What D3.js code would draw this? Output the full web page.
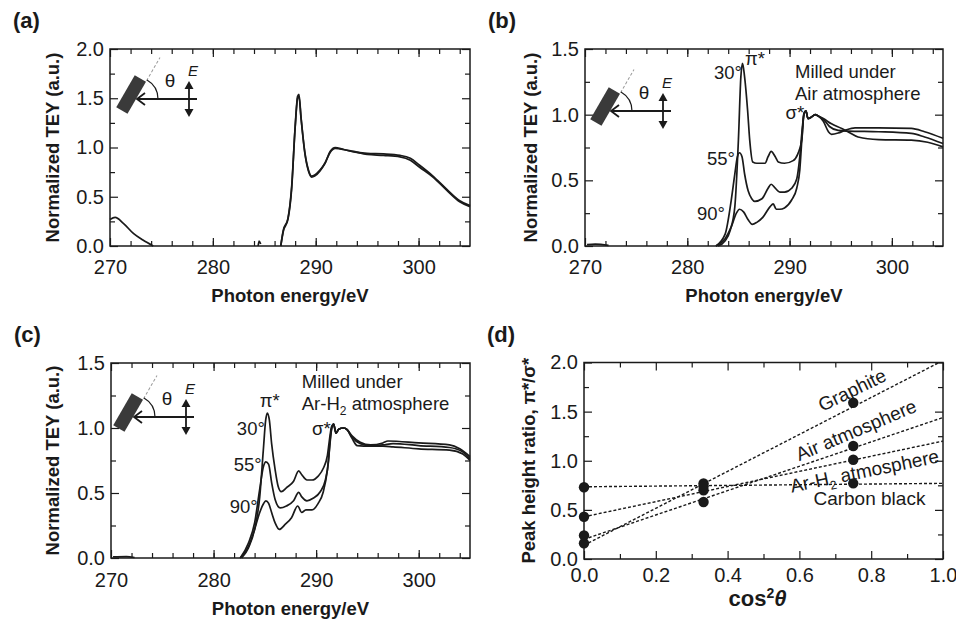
<!DOCTYPE html>
<html>
<head>
<meta charset="utf-8">
<script src="https://cdn.jsdelivr.net/npm/d3@7/dist/d3.min.js"></script>
<style>
  body { margin: 0; background: #fff; }
  text { font-family: "Liberation Sans", Arial, sans-serif; fill: #1a1a1a; }
</style>
</head>
<body>
<script>
// ---- data ----
// panel (a): graphite, [photon energy eV, normalized TEY]
var aPreEdge = [[270, 0.27], [270.5, 0.29], [271.3, 0.23], [272.3, 0.125], [273.2, 0.06], [274.2, 0]];
var aBlip = [[284.4, 0], [284.5, 0.05], [284.65, 0.02]];
var aScan1 = [[286.6, 0], [286.85, 0.16], [287.3, 0.28], [287.66, 0.6], [288.0, 1.21], [288.24, 1.52], [288.37, 1.54],
  [288.57, 1.31], [288.96, 0.94], [289.3, 0.77], [289.6, 0.71], [289.9, 0.72], [290.4, 0.77], [290.9, 0.84],
  [291.4, 0.96], [291.9, 1.0], [292.7, 0.98], [293.7, 0.96], [295, 0.93], [296.6, 0.92], [298.2, 0.905],
  [299.2, 0.87], [300.1, 0.8], [301.4, 0.7], [302.7, 0.57], [304, 0.45], [305, 0.4]];
var aScan2 = [[286.6, 0], [286.85, 0.15], [287.3, 0.27], [287.66, 0.58], [288.0, 1.2], [288.24, 1.5], [288.37, 1.52],
  [288.57, 1.3], [288.96, 0.93], [289.3, 0.76], [289.6, 0.7], [289.9, 0.71], [290.4, 0.76], [290.9, 0.84],
  [291.4, 0.95], [291.9, 0.99], [292.7, 0.98], [293.7, 0.955], [295, 0.94], [296.6, 0.935], [298.2, 0.92],
  [299.2, 0.89], [300.1, 0.82], [301.4, 0.71], [302.7, 0.58], [304, 0.46], [305, 0.41]];

// panel (b): milled under air, three incidence angles
var bBlip = [[270.2, 0.01], [271, 0.015], [272.3, 0.005]];
var b30 = [[283.0, 0], [283.7, 0.04], [284.2, 0.12], [284.65, 0.3], [285.0, 0.81], [285.24, 1.29], [285.4, 1.39],
  [285.6, 1.29], [285.9, 1.03], [286.1, 0.81], [286.4, 0.64], [286.8, 0.63], [287.6, 0.63], [287.9, 0.68],
  [288.2, 0.72], [288.6, 0.68], [288.9, 0.64], [289.5, 0.63], [290.35, 0.65], [290.8, 0.7], [291.2, 0.81],
  [291.4, 1.01], [291.6, 1.03], [291.8, 0.97], [292.1, 0.98], [292.5, 1.0], [292.8, 0.99], [293.3, 0.97],
  [294.1, 0.93], [295.1, 0.895], [295.7, 0.87], [296.7, 0.83], [298.7, 0.81], [301.9, 0.806], [303.5, 0.79], [305, 0.755]];
var b55 = [[282.8, 0], [283.7, 0.09], [284.3, 0.35], [284.65, 0.55], [284.9, 0.68], [285.1, 0.71], [285.35, 0.68],
  [285.6, 0.55], [285.95, 0.42], [286.3, 0.36], [286.6, 0.34], [287.3, 0.36], [287.9, 0.44], [288.2, 0.47],
  [288.6, 0.44], [289.05, 0.41], [289.5, 0.41], [290.2, 0.44], [290.7, 0.51], [291.0, 0.68], [291.2, 0.86],
  [291.4, 1.0], [291.6, 1.03], [291.8, 0.97], [292.1, 0.98], [292.5, 1.0], [292.8, 0.99], [293.3, 0.965],
  [293.9, 0.91], [294.75, 0.88], [295.7, 0.875], [298.7, 0.87], [301.9, 0.857], [303.2, 0.83], [305, 0.78]];
var b90 = [[282.8, 0], [283.7, 0.056], [284.3, 0.145], [284.8, 0.25], [285.1, 0.28], [285.5, 0.26], [285.95, 0.2],
  [286.35, 0.165], [286.8, 0.18], [287.4, 0.22], [288.1, 0.3], [288.4, 0.32], [288.7, 0.28], [289.05, 0.28],
  [289.5, 0.29], [290.2, 0.35], [290.7, 0.44], [291.0, 0.58], [291.2, 0.81], [291.4, 1.0], [291.6, 1.03],
  [291.8, 0.97], [292.1, 0.98], [292.5, 1.0], [292.8, 0.99], [293.3, 0.95], [293.8, 0.87], [294.1, 0.85],
  [294.75, 0.86], [295.4, 0.88], [296.4, 0.9], [298.7, 0.9], [301.9, 0.895], [303.2, 0.87], [305, 0.82]];

// panel (c): milled under Ar-H2
var cBlip = [[270.2, 0.008], [271.5, 0.01], [272.3, 0.004]];
var c30 = [[282.74, 0], [283.4, 0.077], [284.0, 0.22], [284.5, 0.47], [284.85, 0.83], [285.08, 1.06], [285.24, 1.115],
  [285.44, 1.06], [285.66, 0.88], [286.0, 0.68], [286.3, 0.55], [286.6, 0.51], [287.1, 0.54], [287.8, 0.59],
  [288.3, 0.67], [288.6, 0.64], [289.1, 0.6], [289.6, 0.6], [290.2, 0.63], [290.7, 0.69], [291.1, 0.79],
  [291.35, 0.94], [291.5, 1.01], [291.7, 1.03], [291.94, 0.96], [292.2, 0.99], [292.65, 1.0], [292.98, 0.99],
  [293.5, 0.92], [294, 0.865], [295.3, 0.86], [296.5, 0.86], [297.5, 0.855], [300, 0.84], [303, 0.83], [304.3, 0.8], [305, 0.75]];
var c55 = [[282.6, 0], [283.4, 0.115], [284.0, 0.27], [284.5, 0.53], [284.85, 0.7], [285.1, 0.74], [285.37, 0.72],
  [285.66, 0.58], [286.0, 0.45], [286.5, 0.385], [287.1, 0.4], [287.8, 0.44], [288.3, 0.505], [288.6, 0.47],
  [289.1, 0.44], [289.7, 0.46], [290.4, 0.51], [290.9, 0.6], [291.2, 0.74], [291.4, 0.94], [291.55, 1.01],
  [291.7, 1.03], [291.94, 0.96], [292.2, 0.99], [292.65, 1.0], [292.98, 0.99], [293.5, 0.93], [294.3, 0.88],
  [295.3, 0.865], [296.5, 0.87], [297.5, 0.88], [300, 0.865], [303, 0.85], [304.2, 0.82], [305, 0.765]];
var c90 = [[282.6, 0], [283.4, 0.09], [284.0, 0.22], [284.5, 0.35], [284.85, 0.415], [285.1, 0.44], [285.37, 0.42],
  [285.66, 0.35], [286.0, 0.27], [286.4, 0.22], [287.0, 0.26], [287.6, 0.31], [288.2, 0.4], [288.6, 0.35],
  [289.0, 0.37], [289.6, 0.37], [290.2, 0.42], [290.7, 0.51], [291.1, 0.68], [291.35, 0.88], [291.55, 1.01],
  [291.7, 1.03], [291.94, 0.96], [292.2, 0.99], [292.65, 1.0], [292.98, 0.99], [293.5, 0.94], [294.3, 0.89],
  [295.3, 0.87], [296.5, 0.885], [297, 0.9], [300, 0.885], [303, 0.87], [304, 0.84], [305, 0.78]];

// panel (d): peak height ratio vs cos^2(theta)
var cos2theta = [0, 0.333, 0.75];
var graphiteRatio = [0.16, 0.77, 1.59];
var airRatio = [0.24, 0.58, 1.15];
var arh2Ratio = [0.43, 0.70, 1.01];
var carbonRatio = [0.73, 0.74, 0.77];
var fitX = [0, 1];
var graphiteFit = [0.14, 2.02];
var airFit = [0.2, 1.44];
var arh2Fit = [0.43, 1.2];
var carbonFit = [0.735, 0.77];

// ticks
var eMajor = [270, 280, 290, 300];
var eMinor = d3.range(272, 305, 2);
var tey2Major = [0, 0.5, 1.0, 1.5, 2.0];
var tey2Minor = [0.25, 0.75, 1.25, 1.75];
var tey15Major = [0, 0.5, 1.0, 1.5];
var tey15Minor = [0.25, 0.75, 1.25];
var cosMajor = [0, 0.2, 0.4, 0.6, 0.8, 1.0];
var cosMinor = [0.1, 0.3, 0.5, 0.7, 0.9];

var width = 956, height = 621;
var font = '"Liberation Sans", Arial, sans-serif';
var ink = '#1a1a1a';

var svg = d3.select('body')
  .append('svg')
  .attr('width', width)
  .attr('height', height);

function styleAxis(sel) {
  sel.attr('font-family', font).attr('font-size', 20);
  sel.select('.domain').remove();
  sel.selectAll('line').attr('stroke', ink).attr('stroke-width', 1.2);
  sel.selectAll('text').attr('fill', ink);
}

function drawFrame(p) {
  var g = svg.append('g').attr('transform', 'translate(' + p.left + ',' + p.top + ')');
  var x = d3.scaleLinear().domain(p.xDomain).range([0, p.w]);
  var y = d3.scaleLinear().domain(p.yDomain).range([p.h, 0]);
  var fmt = d3.format('.1f');

  g.append('g').attr('transform', 'translate(0,' + p.h + ')')
    .call(d3.axisBottom(x).tickValues(p.xMajor).tickSize(-8).tickSizeOuter(0).tickPadding(p.xPad).tickFormat(p.xFmt))
    .call(styleAxis);
  g.append('g').attr('transform', 'translate(0,' + p.h + ')')
    .call(d3.axisBottom(x).tickValues(p.xMinor).tickSize(-5).tickSizeOuter(0).tickFormat(''))
    .call(styleAxis);
  g.append('g')
    .call(d3.axisTop(x).tickValues(p.xMajor).tickSize(-8).tickSizeOuter(0).tickFormat(''))
    .call(styleAxis);
  g.append('g')
    .call(d3.axisTop(x).tickValues(p.xMinor).tickSize(-5).tickSizeOuter(0).tickFormat(''))
    .call(styleAxis);
  g.append('g')
    .call(d3.axisLeft(y).tickValues(p.yMajor).tickSize(-8).tickSizeOuter(0).tickPadding(6).tickFormat(fmt))
    .call(styleAxis);
  g.append('g')
    .call(d3.axisLeft(y).tickValues(p.yMinor).tickSize(-5).tickSizeOuter(0).tickFormat(''))
    .call(styleAxis);
  g.append('g').attr('transform', 'translate(' + p.w + ',0)')
    .call(d3.axisRight(y).tickValues(p.yMajor).tickSize(-8).tickSizeOuter(0).tickFormat(''))
    .call(styleAxis);
  g.append('g').attr('transform', 'translate(' + p.w + ',0)')
    .call(d3.axisRight(y).tickValues(p.yMinor).tickSize(-5).tickSizeOuter(0).tickFormat(''))
    .call(styleAxis);

  g.append('rect')
    .attr('width', p.w).attr('height', p.h)
    .attr('fill', 'none').attr('stroke', ink).attr('stroke-width', 1.5);

  // panel letter
  svg.append('text').attr('x', p.left - 97).attr('y', p.top - 21)
    .attr('font-size', 22).attr('font-weight', 'bold').text(p.letter);

  // y title
  var cy = p.top + p.h / 2;
  svg.append('text')
    .attr('transform', 'translate(' + (p.left + p.yTitleDx) + ',' + cy + ') rotate(-90)')
    .attr('text-anchor', 'middle')
    .attr('font-size', 18.5).attr('font-weight', 'bold')
    .text(p.yTitle);

  return { g: g, x: x, y: y };
}

function spectrumTitle(p) {
  svg.append('text')
    .attr('x', p.left + p.w / 2).attr('y', p.top + p.h + p.xTitleDy)
    .attr('text-anchor', 'middle')
    .attr('font-size', 18.5).attr('font-weight', 'bold')
    .text('Photon energy/eV');
}

function drawCurves(f, curves) {
  var line = d3.line()
    .x(function(d) { return f.x(d[0]); })
    .y(function(d) { return f.y(d[1]); })
    .curve(d3.curveMonotoneX);
  f.g.selectAll('path.curve')
    .data(curves)
    .enter()
    .append('path')
    .attr('class', 'curve')
    .attr('d', line)
    .attr('fill', 'none')
    .attr('stroke', ink)
    .attr('stroke-width', 1.7)
    .attr('stroke-linejoin', 'round');
}

// geometry sketch: tilted sample, incoming beam, theta and E vector
function drawInset(f, tx, ty) {
  var s = f.g.append('g').attr('transform', 'translate(' + tx + ',' + ty + ')');
  var sample = s.append('g').attr('transform', 'rotate(30)');
  sample.append('rect')
    .attr('x', -13).attr('y', -20).attr('width', 13).attr('height', 37)
    .attr('fill', '#3a3a3a');
  sample.append('line')
    .attr('x1', 0).attr('y1', -21).attr('x2', 0).attr('y2', -48)
    .attr('stroke', '#999').attr('stroke-width', 1).attr('stroke-dasharray', '3,2');

  var r = 22, a = Math.PI / 3;
  s.append('path')
    .attr('d', 'M' + r + ',0 A' + r + ',' + r + ' 0 0 0 ' + (r * Math.cos(a)) + ',' + (-r * Math.sin(a)))
    .attr('fill', 'none').attr('stroke', ink).attr('stroke-width', 1.2);

  s.append('line')
    .attr('x1', 61).attr('y1', 0).attr('x2', 1).attr('y2', 0)
    .attr('stroke', ink).attr('stroke-width', 1.8);
  s.append('path')
    .attr('d', 'M9,-6 L1,0 L9,6')
    .attr('fill', 'none').attr('stroke', ink).attr('stroke-width', 1.8);

  s.append('line')
    .attr('x1', 53).attr('y1', -12).attr('x2', 53).attr('y2', 12)
    .attr('stroke', ink).attr('stroke-width', 1.8);
  s.append('path').attr('d', 'M53,-18 L48.5,-10 L57.5,-10 Z').attr('fill', ink);
  s.append('path').attr('d', 'M53,18 L48.5,10 L57.5,10 Z').attr('fill', ink);

  s.append('text').attr('x', 34).attr('y', -12).attr('text-anchor', 'middle')
    .attr('font-size', 19).text('θ');
  s.append('text').attr('x', 57).attr('y', -23).attr('text-anchor', 'middle')
    .attr('font-size', 15).attr('font-style', 'italic').text('E');
}

function label(f, txt, ex, v, anchor) {
  return f.g.append('text')
    .attr('x', f.x(ex)).attr('y', f.y(v))
    .attr('text-anchor', anchor || 'start')
    .attr('font-size', 18.5)
    .text(txt);
}

// ---- panel (a) ----
var pa = { letter: '(a)', left: 110, top: 49, w: 360, h: 197, xDomain: [270, 305], yDomain: [0, 2],
  xMajor: eMajor, xMinor: eMinor, yMajor: tey2Major, yMinor: tey2Minor, xPad: 14, xFmt: d3.format('d'),
  yTitle: 'Normalized TEY (a.u.)', yTitleDx: -51, xTitleDy: 56 };
var fa = drawFrame(pa);
spectrumTitle(pa);
drawCurves(fa, [aPreEdge, aBlip, aScan2, aScan1]);
drawInset(fa, 26, 50);

// ---- panel (b) ----
var pb = { letter: '(b)', left: 585, top: 49, w: 358, h: 197, xDomain: [270, 305], yDomain: [0, 1.5],
  xMajor: eMajor, xMinor: eMinor, yMajor: tey15Major, yMinor: tey15Minor, xPad: 14, xFmt: d3.format('d'),
  yTitle: 'Normalized TEY (a.u.)', yTitleDx: -48, xTitleDy: 56 };
var fb = drawFrame(pb);
spectrumTitle(pb);
drawCurves(fb, [bBlip, b90, b55, b30]);
drawInset(fb, 25, 62);
label(fb, '30°', 285.35, 1.27, 'end');
label(fb, 'π*', 285.64, 1.378);
label(fb, '55°', 284.66, 0.617, 'end');
label(fb, '90°', 283.69, 0.198, 'end');
label(fb, 'σ*', 289.6, 0.97);
label(fb, 'Milled under', 290.53, 1.28);
label(fb, 'Air atmosphere', 290.53, 1.11);

// ---- panel (c) ----
var pc = { letter: '(c)', left: 111, top: 363, w: 359, h: 195, xDomain: [270, 305], yDomain: [0, 1.5],
  xMajor: eMajor, xMinor: eMinor, yMajor: tey15Major, yMinor: tey15Minor, xPad: 15, xFmt: d3.format('d'),
  yTitle: 'Normalized TEY (a.u.)', yTitleDx: -52, xTitleDy: 57 };
var fc = drawFrame(pc);
spectrumTitle(pc);
drawCurves(fc, [cBlip, c90, c55, c30]);
drawInset(fc, 22, 54);
label(fc, 'π*', 284.5, 1.16);
label(fc, '30°', 285.0, 0.95, 'end');
label(fc, '55°', 284.7, 0.67, 'end');
label(fc, '90°', 284.3, 0.35, 'end');
label(fc, 'σ*', 289.6, 0.946);
label(fc, 'Milled under', 288.6, 1.308);
var arLab = label(fc, 'Ar-H', 288.6, 1.138);
arLab.append('tspan').attr('font-size', 12).attr('dy', 5).text('2');
arLab.append('tspan').attr('dy', -5).text(' atmosphere');

// ---- panel (d) ----
var pd = { letter: '(d)', left: 584, top: 362.5, w: 359, h: 196.5, xDomain: [0, 1], yDomain: [0, 2],
  xMajor: cosMajor, xMinor: cosMinor, yMajor: tey2Major, yMinor: tey2Minor, xPad: 9, xFmt: d3.format('.1f'),
  yTitle: 'Peak height ratio, π*/σ*', yTitleDx: -49 };
var fd = drawFrame(pd);

svg.append('defs').append('clipPath').attr('id', 'clipd')
  .append('rect').attr('width', pd.w).attr('height', pd.h);

var fits = [graphiteFit, airFit, arh2Fit, carbonFit];
var ratios = [graphiteRatio, airRatio, arh2Ratio, carbonRatio];

var fitLine = d3.line()
  .x(function(d, i) { return fd.x(fitX[i]); })
  .y(function(d) { return fd.y(d); });

fd.g.append('g').attr('clip-path', 'url(#clipd)')
  .selectAll('path')
  .data(fits)
  .enter()
  .append('path')
  .attr('d', fitLine)
  .attr('fill', 'none')
  .attr('stroke', ink)
  .attr('stroke-width', 1.4)
  .attr('stroke-dasharray', '3,2');

ratios.forEach(function(series) {
  fd.g.selectAll(null)
    .data(series)
    .enter()
    .append('circle')
    .attr('cx', function(d, i) { return fd.x(cos2theta[i]); })
    .attr('cy', function(d) { return fd.y(d); })
    .attr('r', 5.2)
    .attr('fill', ink);
});

function rotLabel(txt, ex, v, angle) {
  return fd.g.append('text')
    .attr('transform', 'translate(' + fd.x(ex) + ',' + fd.y(v) + ') rotate(' + angle + ')')
    .attr('text-anchor', 'middle')
    .attr('font-size', 19)
    .text(txt);
}
rotLabel('Graphite', 0.755, 1.66, -26);
rotLabel('Air atmosphere', 0.765, 1.25, -23);
var arD = rotLabel('Ar-H', 0.785, 0.83, -11.6);
arD.append('tspan').attr('font-size', 12).attr('dy', 5).text('2');
arD.append('tspan').attr('dy', -5).text(' atmosphere');
rotLabel('Carbon black', 0.795, 0.55, 0);

var cosT = svg.append('text')
  .attr('x', pd.left + pd.w / 2 - 6).attr('y', 606)
  .attr('text-anchor', 'middle')
  .attr('font-size', 22).attr('font-weight', 'bold')
  .text('cos');
cosT.append('tspan').attr('font-size', 14).attr('dy', -8).text('2');
cosT.append('tspan').attr('dy', 8).attr('font-style', 'italic').text('θ');
</script>
</body>
</html>
